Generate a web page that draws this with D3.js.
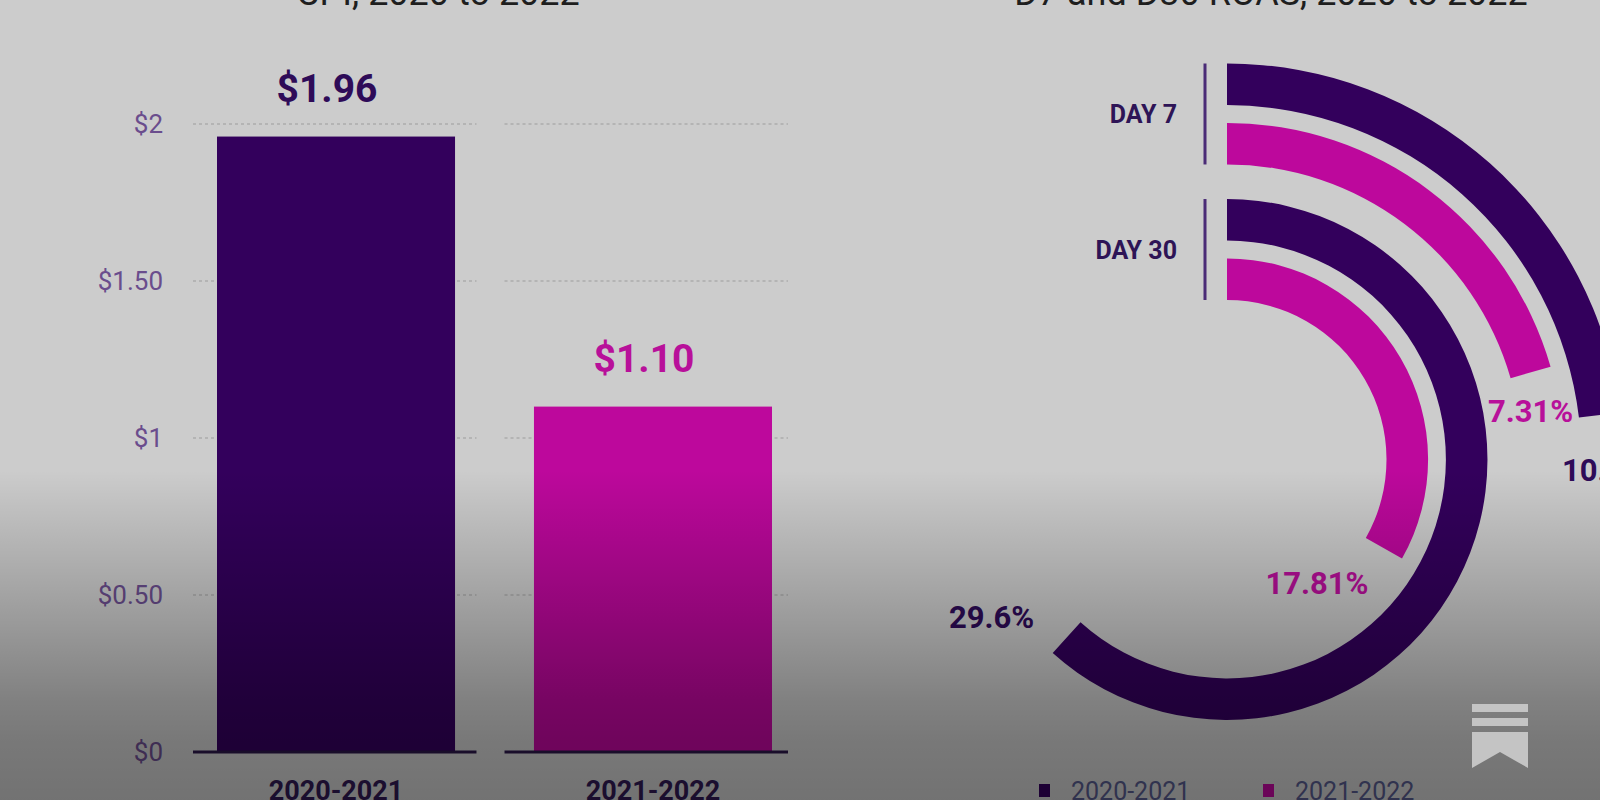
<!DOCTYPE html>
<html>
<head>
<meta charset="utf-8">
<script src="https://cdn.jsdelivr.net/npm/d3@7"></script>
<style>
  html, body { margin: 0; padding: 0; background: #cccccc; }
  svg { display: block; font-family: Roboto, "Noto Sans", sans-serif; }
</style>
</head>
<body>
<svg id="chart" width="1600" height="800"></svg>
<script>
// ---------- data ----------
const leftTitle = "CPI, 2020 to 2022";
const rightTitle = "D7 and D30 ROAS, 2020 to 2022";
const barCategories = ["2020-2021", "2021-2022"];
const cpiValues = [1.96, 1.10];
const cpiLabels = ["$1.96", "$1.10"];
const yTicks = [0, 0.5, 1, 1.5, 2];
const yTickLabels = ["$0", "$0.50", "$1", "$1.50", "$2"];
const seriesNames = ["2020-2021", "2021-2022"];
const roasDays = ["DAY 7", "DAY 30"];
const roasDay7 = [10.5, 7.31];
const roasDay30 = [29.6, 17.81];
const roasDay7Labels = ["10.5%", "7.31%"];
const roasDay30Labels = ["29.6%", "17.81%"];

// ---------- style / layout ----------
const W = 1600, H = 800;
const purple = "#33005c", pink = "#bd089c";
const seriesColors = [purple, pink];
const labelColors = ["#2e0b58", "#b8109a"];

const svg = d3.select("#chart");
const defs = svg.append("defs");

svg.append("rect").attr("width", W).attr("height", H).attr("fill", "#cccccc");

// titles (cut off at top)
svg.append("text").attr("x", 438).attr("y", 5).attr("text-anchor", "middle")
  .attr("font-size", 36).attr("fill", "#1e1e1e").text(leftTitle);
svg.append("text").attr("x", 1271).attr("y", 5).attr("text-anchor", "middle")
  .attr("font-size", 36).attr("fill", "#1e1e1e").text(rightTitle);

// ---------- bar chart ----------
const y = d3.scaleLinear().domain([0, 2]).range([752, 124]);
const xSeg = d3.scaleBand().domain(barCategories).range([193, 788]).paddingInner(0.09);
const xBar = d3.scaleBand().domain(barCategories).range([217, 772]).paddingInner(0.249);

const gBar = svg.append("g");
// gridlines (dotted) per category segment
yTicks.filter(t => t > 0).forEach(t => {
  barCategories.forEach(c => {
    gBar.append("line")
      .attr("x1", xSeg(c)).attr("x2", xSeg(c) + xSeg.bandwidth())
      .attr("y1", y(t)).attr("y2", y(t))
      .attr("stroke", "#b4b4b4").attr("stroke-width", 2)
      .attr("stroke-dasharray", "3,3");
  });
});
// y tick labels
yTicks.forEach((t, i) => {
  gBar.append("text").attr("x", 163).attr("y", y(t)).attr("dy", "0.36em")
    .attr("text-anchor", "end").attr("font-size", 26).attr("fill", "#6a4d8d")
    .text(yTickLabels[i]);
});
// bars
gBar.selectAll("rect.bar").data(cpiValues).join("rect").attr("class", "bar")
  .attr("x", (d, i) => xBar(barCategories[i]))
  .attr("width", xBar.bandwidth())
  .attr("y", d => y(d))
  .attr("height", d => y(0) - y(d))
  .attr("fill", (d, i) => seriesColors[i]);
// baselines
barCategories.forEach(c => {
  gBar.append("line")
    .attr("x1", xSeg(c)).attr("x2", xSeg(c) + xSeg.bandwidth())
    .attr("y1", y(0)).attr("y2", y(0))
    .attr("stroke", "#2a1748").attr("stroke-width", 3);
});
// value labels
gBar.selectAll("text.val").data(cpiValues).join("text").attr("class", "val")
  .attr("x", (d, i) => xBar(barCategories[i]) + xBar.bandwidth() / 2 - 9)
  .attr("y", d => y(d) - 35)
  .attr("text-anchor", "middle").attr("font-size", 39).attr("font-weight", 700)
  .attr("fill", (d, i) => labelColors[i])
  .text((d, i) => cpiLabels[i]);
// category labels
barCategories.forEach(c => {
  gBar.append("text")
    .attr("x", xBar(c) + xBar.bandwidth() / 2).attr("y", 800)
    .attr("text-anchor", "middle").attr("font-size", 27).attr("font-weight", 700)
    .attr("fill", "#2f1852").text(c);
});

// ---------- radial bar chart ----------
const cx = 1227, cy = 459.5;
const rGroup = d3.scaleBand().domain(roasDays.slice().reverse()).range([159.5, 396]).paddingInner(0.255);
const rSeries = d3.scaleBand().domain(seriesNames.slice().reverse()).range([0, rGroup.bandwidth()]).paddingInner(0.3);
const toRad = d3.scaleLinear().domain([0, 360]).range([0, 2 * Math.PI]);
const dayValues = { "DAY 7": roasDay7, "DAY 30": roasDay30 };
const dayLabels = { "DAY 7": roasDay7Labels, "DAY 30": roasDay30Labels };
// angular extents (degrees) used by each day's angle scale
const dayAngleRange = { "DAY 7": [83.2, 74], "DAY 30": [222, 119.5] };
// label offsets from arc end (layout)
const labelOffsets = { "DAY 7": [[5, 66], [0, 50]], "DAY 30": [[-75, -10], [-67, 46]] };

const arc = d3.arc();
const gRad = svg.append("g").attr("transform", `translate(${cx},${cy})`);

roasDays.forEach(day => {
  const vals = dayValues[day];
  const angle = d3.scaleLinear().domain(d3.extent(vals).reverse()).range(dayAngleRange[day]);
  const g0 = rGroup(day);
  seriesNames.forEach((s, i) => {
    const r0 = g0 + rSeries(s), r1 = r0 + rSeries.bandwidth();
    const a = toRad(angle(vals[i]));
    gRad.append("path")
      .attr("d", arc({ innerRadius: r0, outerRadius: r1, startAngle: 0, endAngle: a }))
      .attr("fill", seriesColors[i]);
    const rm = (r0 + r1) / 2;
    const ex = rm * Math.sin(a), ey = -rm * Math.cos(a);
    const off = labelOffsets[day][i];
    gRad.append("text")
      .attr("x", ex + off[0]).attr("y", ey + off[1])
      .attr("text-anchor", "middle").attr("font-size", 31).attr("font-weight", 700)
      .attr("fill", labelColors[i]).text(dayLabels[day][i]);
  });
  // group marker line and label
  const gTop = g0 + rGroup.bandwidth();
  gRad.append("line").attr("x1", -22).attr("x2", -22)
    .attr("y1", -gTop).attr("y2", -g0)
    .attr("stroke", "#4a2b76").attr("stroke-width", 3);
  gRad.append("text").attr("x", -50).attr("y", -(g0 + rGroup.bandwidth() / 2)).attr("dy", "0.36em")
    .attr("text-anchor", "end").attr("font-size", 25).attr("font-weight", 700)
    .attr("fill", "#2e1456").text(day);
});

// legend
const legX = [1039, 1263];
seriesNames.forEach((s, i) => {
  svg.append("rect").attr("x", legX[i]).attr("y", 784).attr("width", 11).attr("height", 13)
    .attr("fill", seriesColors[i]);
  svg.append("text").attr("x", legX[i] + 32).attr("y", 800)
    .attr("font-size", 25).attr("fill", "#55598a").text(s);
});

// darkening overlay at bottom
const grad = defs.append("linearGradient").attr("id", "shade")
  .attr("gradientUnits", "userSpaceOnUse").attr("x1", 0).attr("y1", 0).attr("x2", 0).attr("y2", H);
[[0, 0], [470 / H, 0], [594 / H, 0.2], [700 / H, 0.37], [740 / H, 0.41], [1, 0.44]].forEach(([o, a]) => {
  grad.append("stop").attr("offset", o).attr("stop-color", "#000").attr("stop-opacity", a);
});
svg.append("rect").attr("width", W).attr("height", H).attr("fill", "url(#shade)");

// watermark logo
const logo = svg.append("g").attr("fill", "#c4c4c4");
logo.append("rect").attr("x", 1472).attr("y", 704).attr("width", 56).attr("height", 8);
logo.append("rect").attr("x", 1472).attr("y", 718).attr("width", 56).attr("height", 8);
logo.append("path").attr("d", "M1472,732 H1528 V768 L1500,752 L1472,768 Z");
</script>
</body>
</html>
